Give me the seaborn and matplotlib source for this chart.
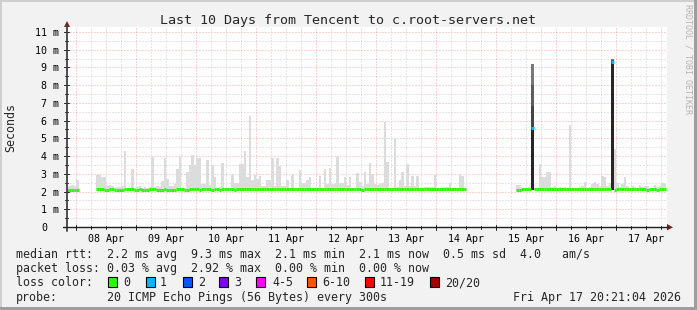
import numpy as np
import pandas as pd
import matplotlib
matplotlib.use("Agg")
import matplotlib.pyplot as plt
from matplotlib import transforms
from matplotlib.patches import Rectangle, Polygon
from matplotlib.lines import Line2D
import seaborn as sns

nan = np.nan

# ---------------- data: hourly bins, hours counted from 08 Apr 00:00 ----------------
first_hour = -4  # first bin starts 07 Apr 20:00

smoke_apr07 = [2.25, 2.30, 2.35, 2.30]
smoke_apr08 = [2.65, nan, nan, nan, nan, nan, nan, nan,
               2.94, 2.94, 2.80, 2.80, 2.30, 2.35, 2.30, 2.20,
               2.25, 2.25, 2.30, 4.30, 2.20, 2.22, 3.27, 2.20]
smoke_apr09 = [2.25, 2.30, 2.20, 2.25, 2.20, 2.25, 3.97, 2.25,
               2.30, 2.25, 2.60, 3.90, 2.70, 2.30, 2.30, 2.40,
               3.27, 3.97, 2.20, 2.20, 3.10, 3.47, 4.07, 3.50]
smoke_apr10 = [3.88, 3.88, 2.40, 2.40, 3.78, 2.35, 3.50, 2.80,
               2.20, 2.25, 3.60, 2.20, 2.20, 2.20, 2.94, 2.50,
               2.50, 3.56, 3.56, 4.30, 2.80, 6.27, 2.65, 2.95]
smoke_apr11 = [2.70, 2.85, 2.30, 2.30, 2.65, 2.65, 3.88, 2.30,
               3.90, 3.45, 2.30, 2.30, 2.65, 2.20, 2.94, 2.20,
               2.20, 3.20, 2.50, 2.50, 2.65, 2.80, 2.20, 2.20]
smoke_apr12 = [2.20, 2.85, 2.20, 3.27, 2.40, 3.30, 2.45, 2.45,
               3.95, 2.50, 2.50, 2.80, 2.35, 2.80, 2.20, 2.20,
               3.05, 2.55, 2.30, 3.10, 2.40, 3.63, 3.00, 2.45]
smoke_apr13 = [2.35, 2.45, 2.50, 5.95, 3.69, 2.20, 2.20, 5.00,
               2.25, 2.65, 3.10, 2.30, 3.56, 2.30, 2.90, 2.30,
               2.85, 2.20, 2.20, 2.25, 2.27, 2.27, 2.27, 2.93]
smoke_apr14 = [2.20, 2.20, 2.20, 2.27, 2.27, 2.46, 2.20, 2.20,
               2.20, 2.93, 2.85, 2.20, nan, nan, nan, nan,
               nan, nan, nan, nan, nan, nan, nan, nan]
smoke_apr15 = [nan, nan, nan, nan, nan, nan, nan, nan,
               2.35, 2.35, 2.20, 2.20, 2.20, 2.25, 9.20, 2.20,
               2.20, 3.56, 2.80, 2.80, 3.10, 3.10, 2.25, 2.30]
smoke_apr16 = [2.20, 2.25, 2.20, 2.25, 2.20, 5.76, 2.20, 2.20,
               2.20, 2.27, 2.30, 2.56, 2.20, 2.25, 2.45, 2.56,
               2.40, 2.30, 2.87, 2.84, 2.30, 2.46, 9.50, 4.40]
smoke_apr17 = [2.50, 2.27, 2.40, 2.84, 2.30, 2.20, 2.30, 2.25,
               2.20, 2.35, 2.25, 2.33, 2.30, 2.20, 2.20, 2.35,
               2.25, 2.30, 2.46, 2.40]

median_apr07 = [2.11, 2.11, 2.11, 2.11]
median_apr08 = [2.11, nan, nan, nan, nan, nan, nan, nan,
                2.12, 2.12, 2.12, 2.09, 2.09, 2.12, 2.12, 2.09,
                2.09, 2.09, 2.09, 2.12, 2.12, 2.12, 2.12, 2.09]
median_apr09 = [2.09, 2.12, 2.09, 2.09, 2.09, 2.12, 2.12, 2.12,
                2.09, 2.09, 2.09, 2.12, 2.09, 2.09, 2.09, 2.09,
                2.12, 2.12, 2.12, 2.09, 2.09, 2.12, 2.12, 2.12]
median_apr10 = [2.12, 2.09, 2.12, 2.12, 2.12, 2.12, 2.09, 2.12,
                2.12, 2.09, 2.12, 2.12, 2.12, 2.12, 2.12, 2.09,
                2.12, 2.12, 2.12, 2.12, 2.12, 2.12, 2.12, 2.12]
median_apr11 = [2.12, 2.12, 2.12, 2.12, 2.12, 2.12, 2.12, 2.12,
                2.12, 2.12, 2.12, 2.12, 2.12, 2.12, 2.12, 2.12,
                2.12, 2.12, 2.12, 2.12, 2.12, 2.12, 2.12, 2.12]
median_apr12 = [2.12, 2.12, 2.12, 2.12, 2.12, 2.12, 2.12, 2.12,
                2.12, 2.12, 2.12, 2.12, 2.12, 2.12, 2.12, 2.12,
                2.12, 2.12, 2.09, 2.12, 2.12, 2.12, 2.12, 2.12]
median_apr13 = [2.12, 2.12, 2.12, 2.12, 2.12, 2.12, 2.12, 2.12,
                2.12, 2.12, 2.12, 2.12, 2.12, 2.12, 2.12, 2.12,
                2.12, 2.12, 2.12, 2.12, 2.12, 2.12, 2.12, 2.12]
median_apr14 = [2.12, 2.12, 2.12, 2.12, 2.12, 2.12, 2.12, 2.12,
                2.12, 2.12, 2.12, 2.12, nan, nan, nan, nan,
                nan, nan, nan, nan, nan, nan, nan, nan]
median_apr15 = [nan, nan, nan, nan, nan, nan, nan, nan,
                2.10, 2.10, 2.12, 2.12, 2.12, 2.12, 5.60, 2.12,
                2.12, 2.12, 2.12, 2.12, 2.12, 2.12, 2.12, 2.12]
median_apr16 = [2.12, 2.12, 2.12, 2.12, 2.12, 2.12, 2.12, 2.12,
                2.12, 2.12, 2.12, 2.12, 2.12, 2.12, 2.12, 2.12,
                2.12, 2.12, 2.12, 2.12, 2.12, 2.12, 9.30, 2.09]
median_apr17 = [2.12, 2.12, 2.12, 2.12, 2.12, 2.12, 2.12, 2.12,
                2.12, 2.12, 2.12, 2.12, 2.09, 2.12, 2.12, 2.12,
                2.09, 2.12, 2.12, 2.12]

lossy_hours = [182, 214]          # 15 Apr 14:00, 16 Apr 22:00
lossy_counts = [1, 1]
spike_hours = [182, 214]
spike_dense_top = [5.6, 9.3]      # top of the dark (dense) smoke

day_labels = ["08 Apr", "09 Apr", "10 Apr", "11 Apr", "12 Apr",
              "13 Apr", "14 Apr", "15 Apr", "16 Apr", "17 Apr"]
y_labels = ["0", "1 m", "2 m", "3 m", "4 m", "5 m", "6 m",
            "7 m", "8 m", "9 m", "10 m", "11 m"]

loss_names = ["0", "1", "2", "3", "4-5", "6-10", "11-19", "20/20"]
loss_colors = ["#26ff00", "#00b8ff", "#0059ff", "#7e00ff",
               "#ff00ff", "#ff5500", "#ff0000", "#a10000"]

legend_rtt = "median rtt:  2.2 ms avg  9.3 ms max  2.1 ms min  2.1 ms now  0.5 ms sd  4.0   am/s"
legend_loss = "packet loss: 0.03 % avg  2.92 % max  0.00 % min  0.00 % now"
probe_text = "20 ICMP Echo Pings (56 Bytes) every 300s"
stamp_text = "Fri Apr 17 20:21:04 2026"
title_text = "Last 10 Days from Tencent to c.root-servers.net"

# ---------------- assemble ----------------
smoke_all = (smoke_apr07 + smoke_apr08 + smoke_apr09 + smoke_apr10 + smoke_apr11 +
             smoke_apr12 + smoke_apr13 + smoke_apr14 + smoke_apr15 + smoke_apr16 + smoke_apr17)
median_all = (median_apr07 + median_apr08 + median_apr09 + median_apr10 + median_apr11 +
              median_apr12 + median_apr13 + median_apr14 + median_apr15 + median_apr16 + median_apr17)
hours = np.arange(first_hour, first_hour + len(smoke_all))
df = pd.DataFrame({"hour": hours, "smoke": smoke_all, "median": median_all})
df["loss"] = 0
for h, c in zip(lossy_hours, lossy_counts):
    df.loc[df.hour == h, "loss"] = c

# ---------------- figure ----------------
sns.set_theme(style="white")
plt.rcParams["font.family"] = ["DejaVu Sans Mono"]

W, H = 697, 310
fig = plt.figure(figsize=(W / 100, H / 100), dpi=100, facecolor="#f2f2f2")


def P(x, y):
    return (x / W, 1 - y / H)


x0, x1, ytop, ybot = 67, 667, 27, 227
ax = fig.add_axes([x0 / W, 1 - ybot / H, (x1 - x0) / W, (ybot - ytop) / H])
ax.set_facecolor("white")
ax.set_xlim(-3.65, 236.35)
ax.set_ylim(0, (ybot - ytop) / 17.73)
for s in ax.spines.values():
    s.set_visible(False)

# grid
minor_c, major_c = "#cdcdcd", "#f0a8a8"
dot = (0, (1, 2))
for v in np.arange(0.5, 11.0, 1.0):
    ax.axhline(v, color=minor_c, lw=0.72, ls=dot, zorder=1)
for v in range(1, 12):
    ax.axhline(v, color=major_c, lw=0.72, ls=dot, zorder=1)
for h in range(6, 237, 6):
    if h % 24:
        ax.axvline(h, color=minor_c, lw=0.72, ls=dot, zorder=1)
for h in range(0, 237, 24):
    ax.axvline(h, color=major_c, lw=0.72, ls=dot, zorder=1)

# smoke
floor = 2.07
valid = df.dropna(subset=["smoke"])
ax.bar(valid.hour, valid.smoke - floor, bottom=floor, width=1.0, align="edge",
       color="#dcdcdc", linewidth=0, zorder=2)
for h, dense in zip(spike_hours, spike_dense_top):
    top = float(df.loc[df.hour == h, "smoke"].iloc[0])
    ax.bar(h, dense - floor, bottom=floor, width=1.0, align="edge",
           color="#262626", linewidth=0, zorder=3)
    edges = np.linspace(dense, top, 4)
    for lo, hi, c in zip(edges[:-1], edges[1:], ["#444444", "#5c5c5c", "#787878"]):
        ax.bar(h, hi - lo, bottom=lo, width=1.0, align="edge",
               color=c, linewidth=0, zorder=3)

# median line (per-bin segments, coloured by loss)
rows = []
for _, r in df.dropna(subset=["median"]).iterrows():
    rows.append((r.hour, r["median"], int(r.hour), loss_names[int(r.loss)]))
    rows.append((r.hour + 1, r["median"], int(r.hour), loss_names[int(r.loss)]))
seg = pd.DataFrame(rows, columns=["x", "y", "unit", "loss"])
sns.lineplot(data=seg, x="x", y="y", units="unit", estimator=None, hue="loss",
             palette=dict(zip(loss_names, loss_colors)), legend=False, sort=False,
             linewidth=2.16, solid_capstyle="butt", ax=ax, zorder=5)

# ticks / labels
ax.set_xlabel("")
ax.set_ylabel("")
ax.set_xticks([12 + 24 * i for i in range(len(day_labels))], day_labels)
ax.tick_params(axis="x", length=0, pad=5.0, labelsize=7.2, colors="black")
ax.set_yticks([])
ty = transforms.blended_transform_factory(fig.transFigure, ax.transData)
for v, lab in enumerate(y_labels):
    xr = 47 if v == 0 else 59
    ax.text(xr / W, v, lab, transform=ty, ha="right", va="center_baseline",
            fontsize=7.2, color="black", clip_on=False)

# axis tick marks
tx = transforms.blended_transform_factory(ax.transData, fig.transFigure)
for h in range(0, 237, 24):
    fig.add_artist(Line2D([h, h], [1 - 225 / H, 1 - 230 / H], transform=tx, color="#1f1f1f", lw=0.72))
for h in range(6, 237, 6):
    if h % 24:
        fig.add_artist(Line2D([h, h], [1 - 226 / H, 1 - 229 / H], transform=tx, color="#1f1f1f", lw=0.72))
for v in range(1, 12):
    fig.add_artist(Line2D([64 / W, 69 / W], [v, v], transform=ty, color="#1f1f1f", lw=0.72))
for v in np.arange(0.5, 11.0, 1.0):
    fig.add_artist(Line2D([65 / W, 68 / W], [v, v], transform=ty, color="#1f1f1f", lw=0.72))

# axes lines and arrows
fig.add_artist(Line2D([67 / W, 67 / W], [1 - 231 / H, 1 - 25 / H], color="#404040", lw=1.3))
fig.add_artist(Line2D([63 / W, 668 / W], [1 - 227.3 / H, 1 - 227.3 / H], color="#1f1f1f", lw=1.0))
fig.add_artist(Polygon([P(64, 27), P(70, 27), P(67, 21)], closed=True, color="#801f1f", lw=0))
fig.add_artist(Polygon([P(667, 224), P(667, 230.5), P(673, 227.3)], closed=True, color="#801f1f", lw=0))

# frame shading
fig.add_artist(Rectangle(P(0, 310), 2 / W, 1, transform=fig.transFigure, color="#cfcfcf", lw=0))
fig.add_artist(Rectangle(P(0, 2), 1, 2 / H, transform=fig.transFigure, color="#cfcfcf", lw=0))
fig.add_artist(Rectangle(P(694, 310), 3 / W, 1, transform=fig.transFigure, color="#9e9e9e", lw=0))
fig.add_artist(Rectangle(P(0, 310), 1, 3 / H, transform=fig.transFigure, color="#9e9e9e", lw=0))

# texts
fig.text(*P(348.5, 24), title_text, ha="center", va="baseline", fontsize=9.6)
fig.text(*P(10.5, 127.5), "Seconds", rotation=90, ha="center", va="center", fontsize=8.4)
fig.text(*P(688, 4), "RRDTOOL / TOBI OETIKER", rotation=270, ha="center", va="top",
         fontsize=6.0, color="#b4b4b4")

fs = 8.42
fig.text(*P(16, 257.7), legend_rtt, ha="left", va="baseline", fontsize=fs)
fig.text(*P(16, 272.0), legend_loss, ha="left", va="baseline", fontsize=fs)
fig.text(*P(16, 286.2), "loss color:", ha="left", va="baseline", fontsize=fs)
box_x = [108, 146, 183, 219, 256, 307, 365, 430]
lab_x = [123, 160, 198, 234, 272, 322, 380, 445]
for bx, lx, name, col in zip(box_x, lab_x, loss_names, loss_colors):
    fig.add_artist(Rectangle(P(bx, 286.5), 9 / W, 9.5 / H, transform=fig.transFigure,
                             facecolor=col, edgecolor="black", lw=0.8))
    fig.text(*P(lx, 286.2), name, ha="left", va="baseline", fontsize=fs)
fig.text(*P(16, 300.5), "probe:", ha="left", va="baseline", fontsize=fs)
fig.text(*P(107, 300.5), probe_text, ha="left", va="baseline", fontsize=fs)
fig.text(*P(513, 300.5), stamp_text, ha="left", va="baseline", fontsize=fs)

fig.savefig("out.png", dpi=100, facecolor=fig.get_facecolor())
